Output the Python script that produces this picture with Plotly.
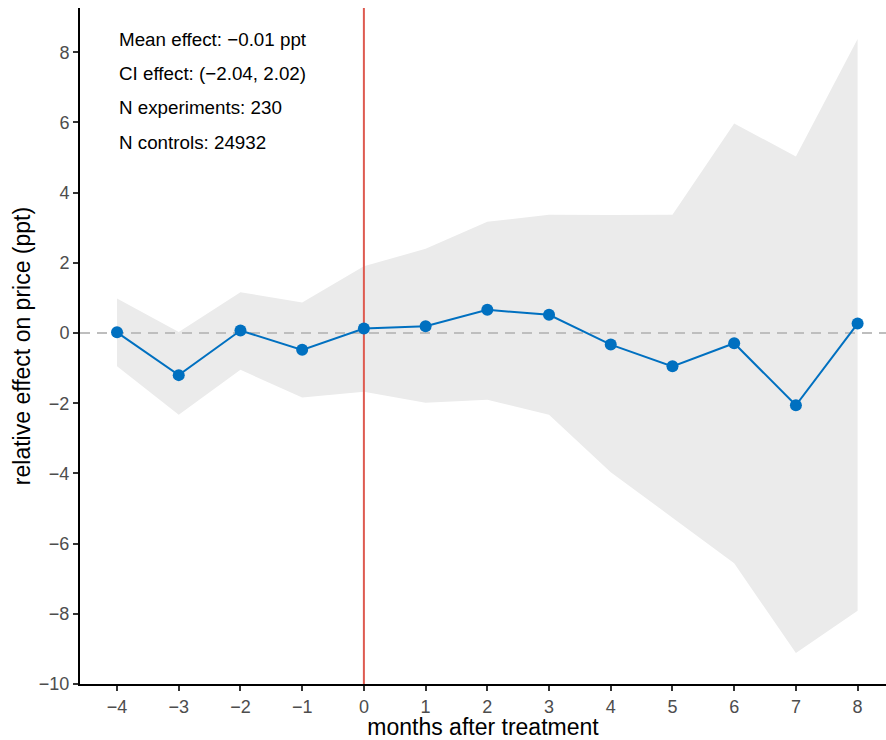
import plotly.graph_objects as go

months = [-4, -3, -2, -1, 0, 1, 2, 3, 4, 5, 6, 7, 8]
effect = [0.02, -1.20, 0.07, -0.48, 0.13, 0.19, 0.66, 0.52, -0.33, -0.95, -0.29, -2.06, 0.27]
ci_upper = [0.98, 0.03, 1.16, 0.87, 1.90, 2.40, 3.17, 3.37, 3.36, 3.37, 5.97, 5.03, 8.38]
ci_lower = [-0.95, -2.33, -1.05, -1.84, -1.67, -1.99, -1.90, -2.33, -3.97, -5.26, -6.56, -9.12, -7.91]

x_ticks = list(range(-4, 9))
y_ticks = list(range(-10, 9, 2))
x_range = [-4.6, 8.46]
y_range = [-10.0, 9.26]
zero_level = 0
treatment_month = 0

info_lines = [
    "Mean effect: \u22120.01 ppt",
    "CI effect: (\u22122.04, 2.02)",
    "N experiments: 230",
    "N controls: 24932",
]
info_y = [8.36, 7.39, 6.42, 5.43]

def fmt(v):
    return str(v).replace("-", "\u2212")

FONT = "Liberation Sans, Arial, sans-serif"

fig = go.Figure()

# confidence ribbon
fig.add_trace(go.Scatter(
    x=months + months[::-1],
    y=ci_upper + ci_lower[::-1],
    fill="toself", fillcolor="#EBEBEB",
    line=dict(width=0), mode="lines", hoverinfo="skip", showlegend=False,
))

# zero reference (dashed)
fig.add_trace(go.Scatter(
    x=x_range, y=[zero_level, zero_level], mode="lines",
    line=dict(color="#BEBEBE", width=2, dash="10px,7px"),
    hoverinfo="skip", showlegend=False,
))

# treatment line
fig.add_trace(go.Scatter(
    x=[treatment_month, treatment_month], y=y_range, mode="lines",
    line=dict(color="#DE5A50", width=2),
    hoverinfo="skip", showlegend=False,
))

# effect
fig.add_trace(go.Scatter(
    x=months, y=effect, mode="lines+markers",
    line=dict(color="#0070C0", width=2),
    marker=dict(color="#0070C0", size=12),
    showlegend=False,
))

for txt, yy in zip(info_lines, info_y):
    fig.add_annotation(
        x=months[0], y=yy, xref="x", yref="y", text=txt, showarrow=False,
        xanchor="left", yanchor="middle",
        font=dict(family=FONT, size=18.8, color="#000000"),
    )

fig.update_layout(
    width=886, height=740,
    margin=dict(l=80, r=0, t=8, b=56, autoexpand=False),
    plot_bgcolor="white", paper_bgcolor="white",
    font=dict(family=FONT),
)

fig.update_xaxes(
    range=x_range, tickvals=x_ticks, ticktext=[fmt(v) for v in x_ticks],
    showgrid=False, zeroline=False, automargin=False,
    showline=True, linecolor="#000000", linewidth=2,
    ticks="outside", ticklen=5, tickwidth=2, tickcolor="#333333",
    tickfont=dict(family=FONT, size=18, color="#4D4D4D"),
    title=dict(text="months after treatment", font=dict(family=FONT, size=23, color="#000000"), standoff=8),
)
fig.update_yaxes(
    range=y_range, tickvals=y_ticks, ticktext=[fmt(v) for v in y_ticks],
    showgrid=False, zeroline=False, automargin=False,
    showline=True, linecolor="#000000", linewidth=2,
    ticks="outside", ticklen=5, tickwidth=2, tickcolor="#333333",
    tickfont=dict(family=FONT, size=18, color="#4D4D4D"),
    title=dict(text="relative effect on price (ppt)", font=dict(family=FONT, size=23, color="#000000"), standoff=2),
)

fig.write_html(
    "out.html",
    config={"displayModeBar": False},
    post_script="document.body.style.margin='0px';document.body.style.overflow='hidden';",
)
